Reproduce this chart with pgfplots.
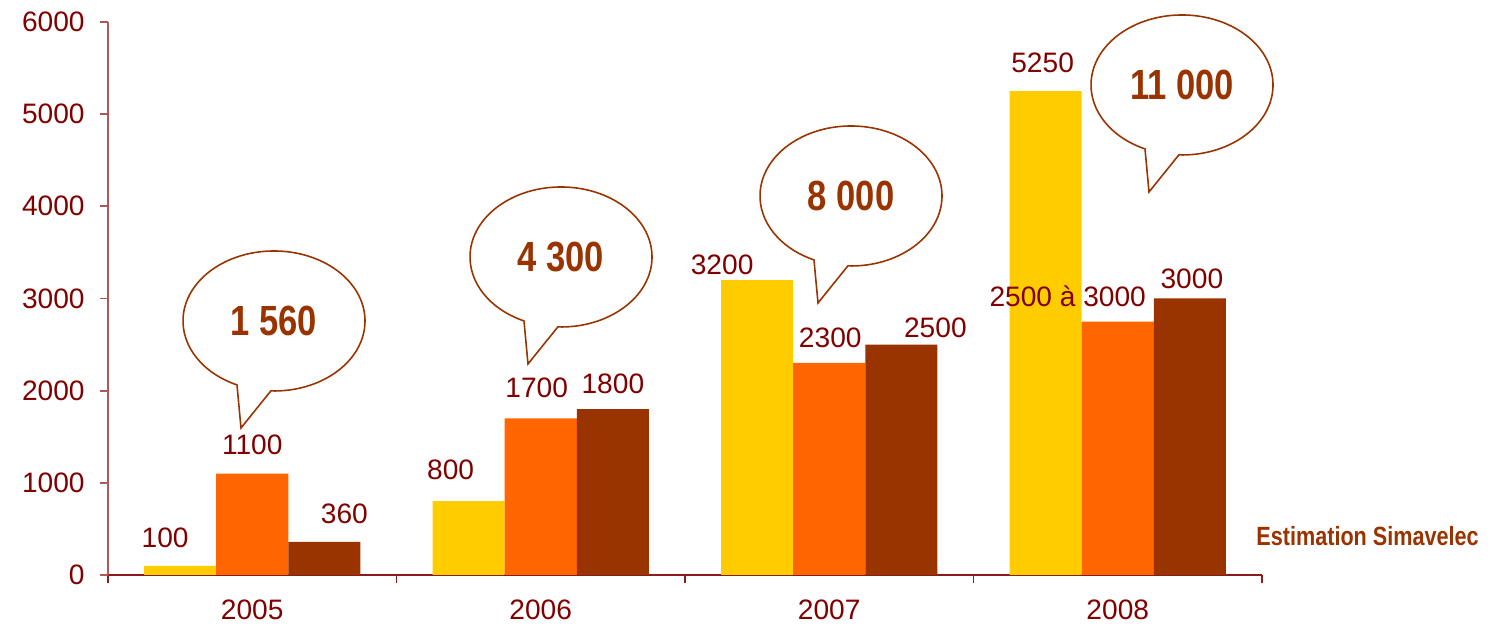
\documentclass[border=0pt]{standalone}
\usepackage{pgfplots}
\usepackage{pgfplotstable}
\pgfplotsset{compat=1.18}
\usetikzlibrary{calc}
\usepackage{fontspec}
\setmainfont{Liberation Sans}
\newfontfamily\narrow[FakeStretch=0.82]{Liberation Sans}

\definecolor{cyel}{HTML}{FFCC00}
\definecolor{corg}{HTML}{FF6600}
\definecolor{cbrn}{HTML}{993300}
\definecolor{ctxt}{HTML}{800000}
\definecolor{cxax}{HTML}{8C1A1A}
\definecolor{cyax}{HTML}{B05858}

% x = year index, dx/dy = label offset in 0.1mm
\pgfplotstableread{
x y dx dy lab
0 100 -15 28 100
1 800 -18 31 800
2 3200 -35 15 3200
3 5250 -3 28 5250
}\yel
\pgfplotstableread{
x y dx dy lab
0 1100 0 29 1100
1 1700 -4 30 1700
2 2300 1 25 2300
3 2750 -50 25 {2500 à 3000}
}\org
\pgfplotstableread{
x y dx dy lab
0 360 20 28 360
1 1800 0 25 1800
2 2500 34 17 2500
3 3000 2 20 3000
}\brn

\newcommand\bubble[3]{%
  \coordinate (c) at ($(ax.south west)+(#1)$);
  \draw[cbrn, line width=0.45pt, fill=white]
    ($(c)+(268:9.1mm and 7mm)$)
    arc[start angle=268, end angle=606, x radius=9.1mm, y radius=7mm]
    -- ($(c)+(-3.3mm,-10.7mm)$) -- cycle;
  \node[text=cbrn, font=\narrow\bfseries\fontsize{12}{14}\selectfont] at (c) {#2#3};
}

\begin{document}
\begin{tikzpicture}
\begin{axis}[
    name=ax,
    scale only axis,
    width=115.4mm, height=55.3mm,
    xmin=-0.5, xmax=3.5,
    ymin=0, ymax=6000,
    ybar=0pt, bar width=0.25,
    axis x line*=bottom, axis y line*=left,
    x axis line style={draw=cxax, line width=0.6pt},
    y axis line style={draw=cyax, line width=0.5pt},
    xtick={0,1,2,3},
    xticklabels={2005,2006,2007,2008},
    minor xtick={-0.5,0.5,1.5,2.5,3.5},
    major x tick style={draw=none},
    minor x tick style={draw=cxax, line width=0.5pt},
    y tick style={draw=cyax, line width=0.5pt},
    ytick={0,1000,...,6000},
    tick align=outside,
    major tick length=0.8mm, minor tick length=0.8mm,
    /pgf/number format/assume math mode=true,
    /pgf/number format/1000 sep={},
    tick label style={text=ctxt, font=\fontsize{8}{9.6}\selectfont},
    x tick label style={yshift=-0.4mm},
    y tick label style={xshift=-0.3mm},
    nodes near coords,
    point meta=explicit symbolic,
    visualization depends on={\thisrow{dx} \as \dx},
    visualization depends on={\thisrow{dy} \as \dy},
    nodes near coords style={anchor=center, text=ctxt,
        font=\fontsize{8}{9.6}\selectfont,
        xshift={\dx*0.1mm}, yshift={\dy*0.1mm}},
]
    \addplot[fill=cyel, draw=none] table[x=x, y=y, meta=lab] {\yel};
    \addplot[fill=corg, draw=none] table[x=x, y=y, meta=lab] {\org};
    \addplot[fill=cbrn, draw=none] table[x=x, y=y, meta=lab] {\brn};
\end{axis}

% speech bubbles with the yearly totals
\bubble{16.6mm,25.4mm}{1 560}{}
\bubble{45.3mm,31.8mm}{4 300}{}
\bubble{74.3mm,37.9mm}{8 000}{}
\bubble{107.4mm,49.0mm}{11 000}{}

\node[anchor=west, text=cbrn, font=\narrow\bfseries\fontsize{7.5}{9}\selectfont]
    at ($(ax.south east)+(-1.8mm,3.9mm)$) {Estimation Simavelec};

\pgfresetboundingbox
\path ($(ax.south west)+(-10.8mm,-5.3mm)$) rectangle ($(ax.north east)+(23.9mm,2.2mm)$);
\end{tikzpicture}
\end{document}
